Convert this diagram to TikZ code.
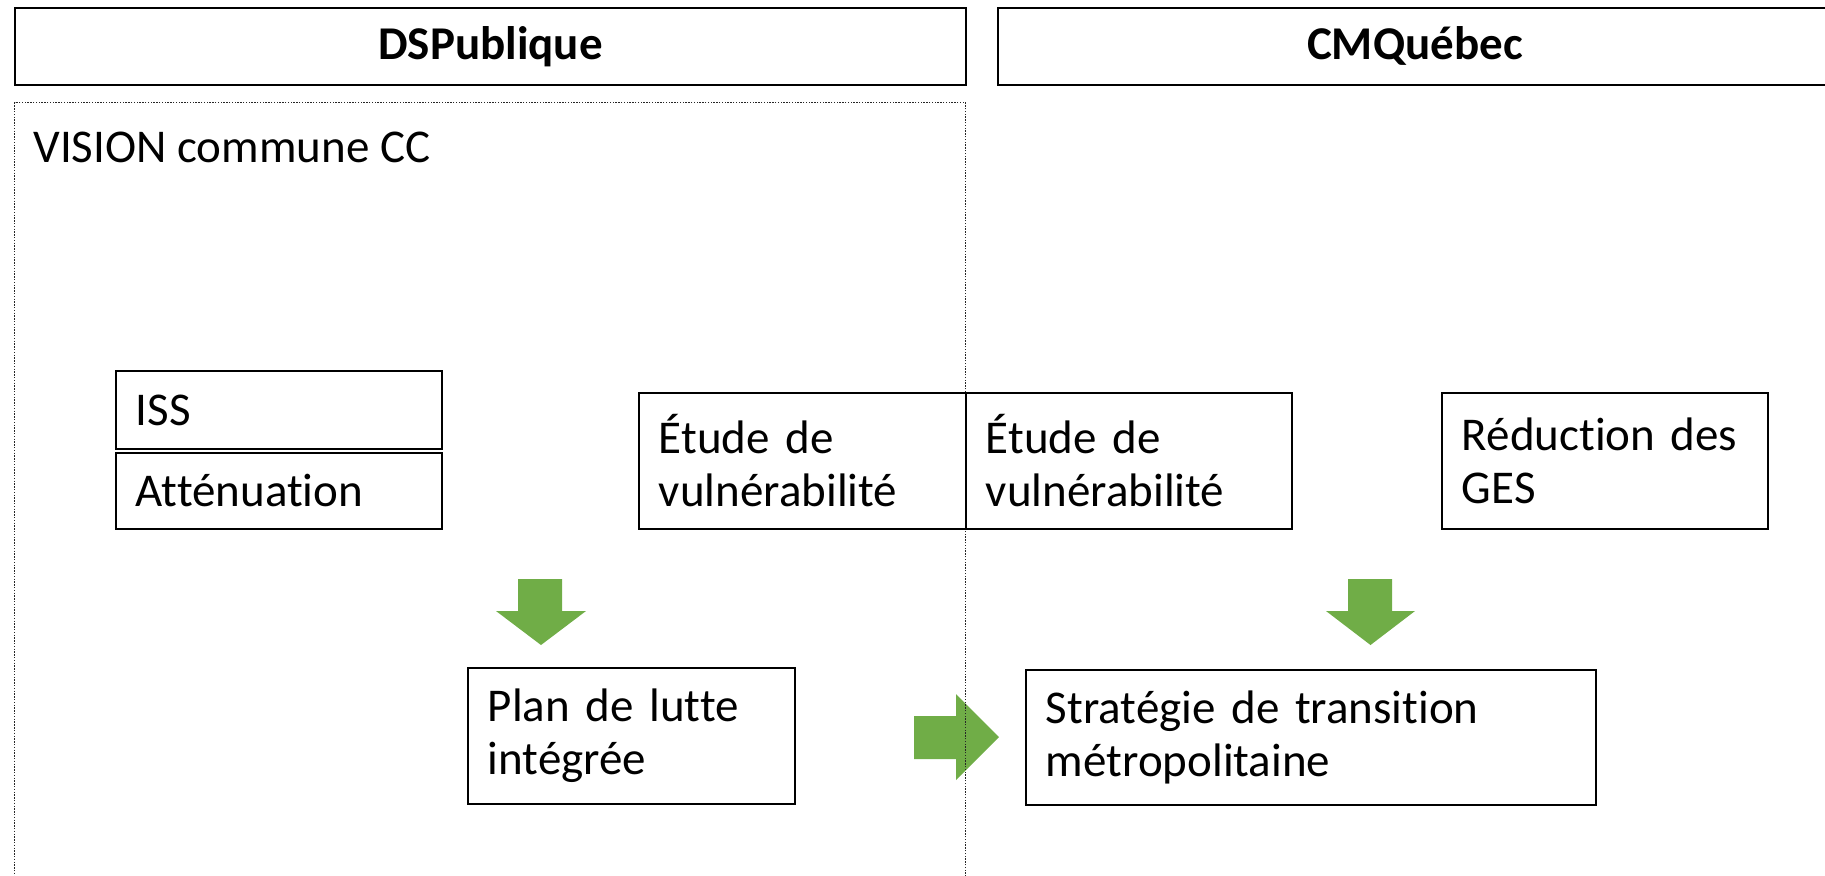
\documentclass[tikz,border=0pt]{standalone}
\usepackage{fontspec}
\setmainfont{Carlito}[Ligatures=NoCommon]
\definecolor{grn}{HTML}{70AD47}
\begin{document}
\begin{tikzpicture}[x=0.5pt,y=-0.5pt,
  box/.style={draw=black, line width=0.9pt, anchor=north west, inner xsep=10pt, inner ysep=0pt, align=left, font=\fontsize{23.5}{26.5}\selectfont},
  titlebox/.style={draw=black, line width=0.9pt, anchor=north west, inner sep=0pt, align=center, font=\bfseries\fontsize{23.5}{26.5}\selectfont},
  dotbox/.style={draw=black!85, line width=0.7pt, dash pattern=on 0.7pt off 0.7pt, anchor=north west, inner sep=0pt},
  garrow/.style={fill=grn, draw=none}]
\useasboundingbox (0,0) rectangle (1825,875);
% titles
\node[titlebox, minimum width=475.5pt, minimum height=38.5pt] (dsp) at (14,7) {DSPublique};
\node[titlebox, minimum width=417pt, minimum height=38.5pt] (cmq) at (997,7) {CMQuébec};
% green block arrows
\fill[garrow] (518,579) -- (562,579) -- (562,611) -- (586,611) -- (541,645) -- (496,611) -- (518,611) -- cycle;
\fill[garrow] (1348,579) -- (1392,579) -- (1392,611) -- (1415,611) -- (1370.5,645) -- (1326,611) -- (1348,611) -- cycle;
\fill[garrow] (914,716) -- (956,716) -- (956,694) -- (999,737) -- (956,780) -- (956,759) -- (914,759) -- cycle;
% dotted container
\node[dotbox, minimum width=475.5pt, minimum height=400pt] (vision) at (14,102) {};
\node[anchor=base west, inner sep=0pt, font=\fontsize{23.5}{26.5}\selectfont] (visiontxt) at (33,162) {VISION commune CC};
% boxes
\node[box, minimum width=163pt, minimum height=39pt, text width=143pt] (iss) at (115,370) {ISS};
\node[box, minimum width=163pt, minimum height=38pt, text width=143pt] (att) at (115,452) {Atténuation};
\node[box, minimum width=163.5pt, minimum height=68pt, text width=143.5pt] (etudeL) at (638,392) {Étude de\\vulnérabilité};
\node[box, minimum width=163pt, minimum height=68pt, text width=143pt] (etudeR) at (965,392) {Étude de\\vulnérabilité};
\node[box, minimum width=163pt, minimum height=68pt, text width=143pt] (ges) at (1441,392) {Réduction des\\GES};
\node[box, minimum width=163.5pt, minimum height=68pt, text width=143.5pt] (plan) at (467,667) {Plan de lutte\\intégrée};
\node[box, minimum width=285pt, minimum height=67.5pt, text width=265pt] (strat) at (1025,669) {Stratégie de transition\\métropolitaine};
\end{tikzpicture}
\end{document}
